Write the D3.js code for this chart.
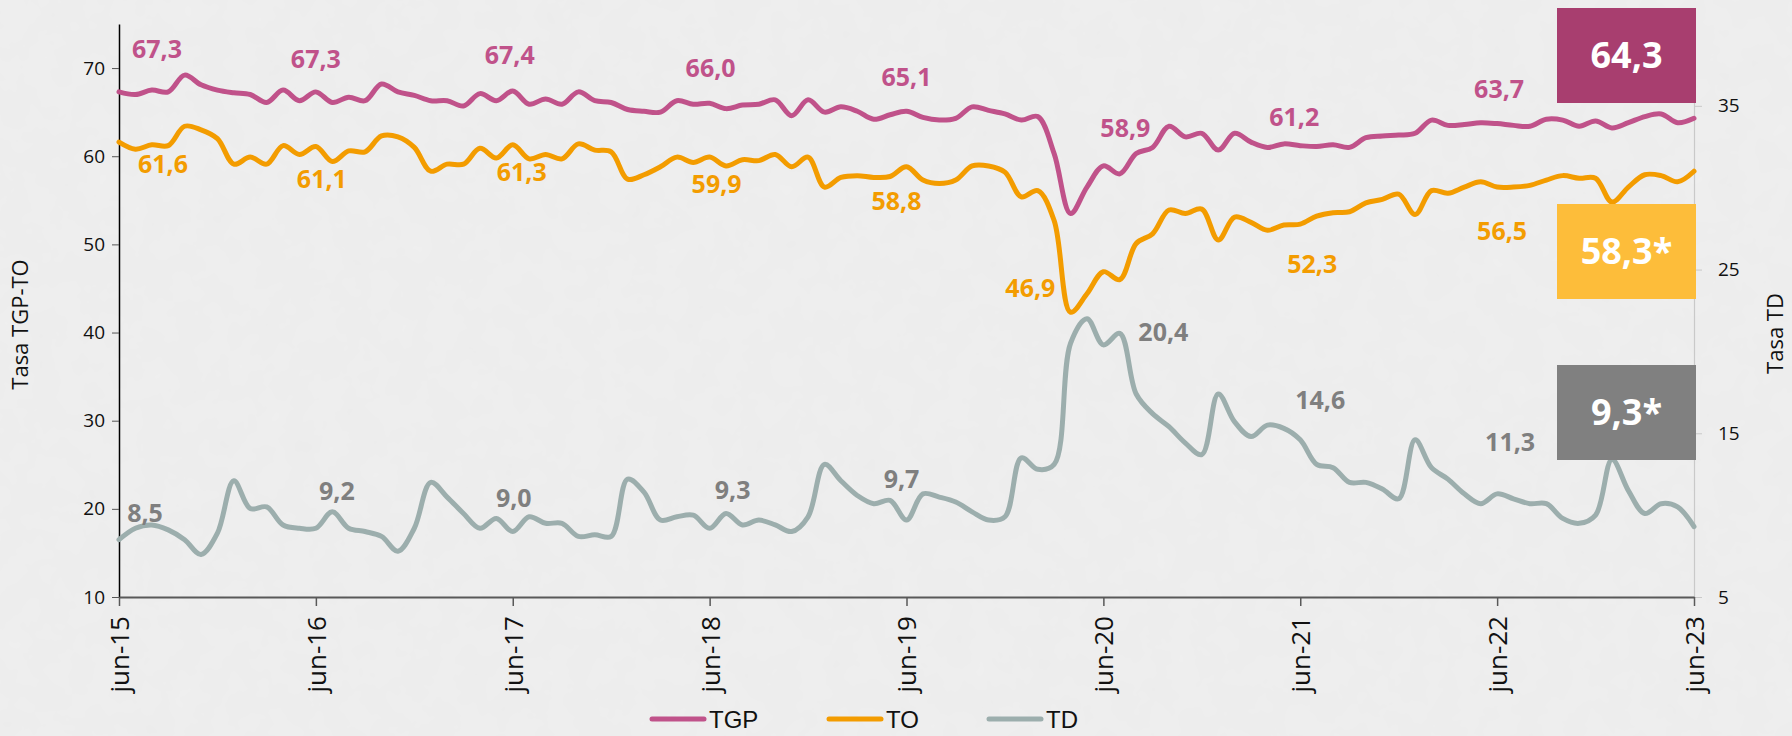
<!DOCTYPE html>
<html>
<head>
<meta charset="utf-8">
<script src="https://cdn.jsdelivr.net/npm/d3@7"></script>
<style>
  html, body { margin: 0; padding: 0; background: #efefef; }
  svg { display: block; }
</style>
</head>
<body>
<svg id="chart"></svg>
<script>
// monthly series jun-15 .. jun-23
const xTickLabels = ["jun-15", "jun-16", "jun-17", "jun-18", "jun-19", "jun-20", "jun-21", "jun-22", "jun-23"];

const tgp = [
  67.3, 67.0, 67.5, 67.3, 69.2, 68.1, 67.5, 67.2, 67.0, 66.1, 67.5, 66.3,
  67.3, 66.1, 66.7, 66.3, 68.2, 67.3, 66.9, 66.3, 66.3, 65.7, 67.1, 66.3,
  67.4, 65.9, 66.5, 65.9, 67.3, 66.3, 66.1, 65.3, 65.1, 65.0, 66.3, 65.9,
  66.0, 65.4, 65.8, 65.9, 66.4, 64.6, 66.4, 65.0, 65.6, 65.1, 64.2, 64.7,
  65.1, 64.4, 64.1, 64.3, 65.6, 65.2, 64.8, 64.1, 64.5, 60.3, 53.5, 56.5,
  58.9, 58.0, 60.3, 61.0, 63.4, 62.2, 62.6, 60.7, 62.6, 61.6, 61.0, 61.4,
  61.2, 61.1, 61.3, 61.0, 62.1, 62.3, 62.4, 62.6, 64.1, 63.5, 63.6, 63.8,
  63.7, 63.5, 63.4, 64.2, 64.1, 63.4, 64.0, 63.2, 63.8, 64.5, 64.8, 63.8,
  64.3
];

const to = [
  61.6, 60.8, 61.3, 61.2, 63.4, 63.0, 62.0, 59.1, 59.9, 59.1, 61.2, 60.2,
  61.1, 59.4, 60.6, 60.5, 62.3, 62.2, 61.0, 58.3, 59.1, 59.1, 60.9, 59.8,
  61.3, 59.7, 60.2, 59.7, 61.4, 60.7, 60.5, 57.4, 57.9, 58.8, 59.9, 59.3,
  59.9, 58.9, 59.6, 59.5, 60.2, 58.8, 59.9, 56.5, 57.6, 57.8, 57.6, 57.7,
  58.8, 57.3, 56.9, 57.3, 58.9, 58.9, 58.2, 55.4, 56.1, 52.7, 42.3, 44.4,
  46.9, 46.0, 50.1, 51.2, 53.9, 53.5, 54.0, 50.5, 53.1, 52.5, 51.6, 52.2,
  52.3, 53.2, 53.6, 53.7, 54.7, 55.1, 55.7, 53.4, 56.1, 55.8, 56.5, 57.1,
  56.5, 56.5, 56.7, 57.3, 57.8, 57.5, 57.5, 54.8, 56.5, 57.9, 57.8, 57.1,
  58.3
];

const td = [
  8.5, 9.2, 9.4, 9.1, 8.5, 7.6, 8.9, 12.1, 10.4, 10.5, 9.4, 9.2,
  9.2, 10.2, 9.2, 9.0, 8.7, 7.8, 9.2, 12.0, 11.1, 10.1, 9.2, 9.8,
  9.0, 9.9, 9.5, 9.5, 8.7, 8.8, 8.7, 12.2, 11.4, 9.7, 9.9, 10.0,
  9.2, 10.1, 9.4, 9.7, 9.4, 9.0, 9.9, 13.1, 12.1, 11.2, 10.7, 10.9,
  9.7, 11.3, 11.1, 10.8, 10.2, 9.7, 9.9, 13.5, 12.8, 13.1, 20.5, 22.0,
  20.4, 21.1, 17.4, 16.2, 15.4, 14.4, 13.7, 17.4, 15.7, 14.8, 15.5, 15.3,
  14.6, 13.1, 12.9, 12.0, 12.0, 11.6, 11.0, 14.6, 12.9, 12.2, 11.3, 10.7,
  11.3, 11.0, 10.7, 10.7, 9.8, 9.5, 10.0, 13.4, 11.5, 10.1, 10.7, 10.5,
  9.3
];

// labelled points (index of month) and the texts shown
const labelIdx = [0, 12, 24, 36, 48, 60, 72, 84];
const tgpLabels = ["67,3", "67,3", "67,4", "66,0", "65,1", "58,9", "61,2", "63,7"];
const toLabels  = ["61,6", "61,1", "61,3", "59,9", "58,8", "46,9", "52,3", "56,5"];
const tdLabels  = ["8,5", "9,2", "9,0", "9,3", "9,7", "20,4", "14,6", "11,3"];
const lastLabels = ["64,3", "58,3*", "9,3*"];

const leftTicks = [10, 20, 30, 40, 50, 60, 70];
const rightTicks = [5, 15, 25, 35];

// layout
const W = 1792, H = 736;
const plot = { left: 119, right: 1694, top: 24, bottom: 597 };
const col = { tgp: "#c0528a", to: "#f39c00", td: "#9caead", tdText: "#7f7f7f" };
const font = "'Open Sans', 'Noto Sans', sans-serif";

// label offsets [dx, dy] from the point
const tgpOff = [[38, -34], [0, -24], [-3, -27], [1, -26], [0, -25], [22, -29], [-6, -20], [2, -26]];
const toOff  = [[44, 31], [6, 41], [9, 36], [7, 36], [-10, 43], [-73, 25], [12, 49], [5, 53]];
const tdOff  = [[26, -18], [21, -28], [1, -25], [23, -29], [-5, -32], [60, -4], [20, -31], [13, -43]];

const svg = d3.select("#chart").attr("width", W).attr("height", H);

// paper background
const defs = svg.append("defs");
const f = defs.append("filter").attr("id", "paper").attr("x", 0).attr("y", 0).attr("width", "100%").attr("height", "100%");
f.append("feTurbulence").attr("type", "fractalNoise").attr("baseFrequency", 0.035).attr("numOctaves", 3).attr("seed", 4);
f.append("feColorMatrix").attr("type", "matrix")
  .attr("values", "0 0 0 0 0.5  0 0 0 0 0.5  0 0 0 0 0.5  0 0 0 0.06 0");
svg.append("rect").attr("width", W).attr("height", H).attr("fill", "#efefef");
svg.append("rect").attr("width", W).attr("height", H).attr("filter", "url(#paper)");

const n = tgp.length;
const x = d3.scaleLinear().domain([0, n - 1]).range([plot.left, plot.right]);
const yL = d3.scaleLinear().domain([10, 75]).range([plot.bottom, plot.top]);
const yR = d3.scaleLinear().domain([5, 40]).range([plot.bottom, plot.top]);

// axes
const gL = svg.append("g")
  .attr("transform", `translate(${plot.left},0)`)
  .call(d3.axisLeft(yL).tickValues(leftTicks).tickSize(7).tickSizeOuter(0).tickPadding(7));
gL.select(".domain").attr("stroke", "#000").attr("stroke-width", 1.5);
gL.selectAll(".tick line").attr("stroke", "#555");
gL.selectAll("text").attr("font-family", font).attr("font-size", 19).attr("fill", "#111");

const gR = svg.append("g")
  .attr("transform", `translate(${plot.right},0)`)
  .call(d3.axisRight(yR).tickValues(rightTicks).tickSize(8).tickSizeOuter(0).tickPadding(16));
gR.select(".domain").attr("stroke", "#c9c9c9").attr("stroke-width", 1.2);
gR.selectAll(".tick line").attr("stroke", "#c9c9c9");
gR.selectAll("text").attr("font-family", font).attr("font-size", 19).attr("fill", "#111");

const gB = svg.append("g")
  .attr("transform", `translate(0,${plot.bottom})`)
  .call(d3.axisBottom(x).tickValues(xTickLabels.map((d, i) => i * 12))
    .tickFormat((d, i) => xTickLabels[i]).tickSize(9).tickSizeOuter(0));
gB.select(".domain").attr("stroke", "#595959").attr("stroke-width", 2);
gB.selectAll(".tick line").attr("stroke", "#595959").attr("stroke-width", 1.5);
gB.selectAll("text")
  .attr("font-family", font).attr("font-size", 26).attr("fill", "#111")
  .attr("transform", "rotate(-90)")
  .attr("x", -19).attr("y", 0).attr("dy", "0.36em")
  .attr("text-anchor", "end");

// axis titles
svg.append("text")
  .attr("transform", `translate(28,${(plot.top + plot.bottom) / 2 + 14}) rotate(-90)`)
  .attr("text-anchor", "middle").attr("font-family", font).attr("font-size", 22).attr("fill", "#111")
  .text("Tasa TGP-TO");
svg.append("text")
  .attr("transform", `translate(1783,${(plot.top + plot.bottom) / 2 + 23}) rotate(-90)`)
  .attr("text-anchor", "middle").attr("font-family", font).attr("font-size", 22).attr("fill", "#111")
  .text("Tasa TD");

// lines
const series = [
  { key: "TGP", values: tgp, y: yL, color: col.tgp },
  { key: "TO", values: to, y: yL, color: col.to },
  { key: "TD", values: td, y: yR, color: col.td }
];

const linesG = svg.append("g");
series.slice().reverse().forEach(s => {
  const line = d3.line()
    .x((d, i) => x(i))
    .y(d => s.y(d))
    .curve(d3.curveCatmullRom.alpha(0.5));
  linesG.append("path")
    .datum(s.values)
    .attr("fill", "none")
    .attr("stroke", s.color)
    .attr("stroke-width", 5)
    .attr("stroke-linejoin", "round")
    .attr("stroke-linecap", "round")
    .attr("d", line);
});

// data labels
function addLabels(vals, texts, offs, yScale, color) {
  svg.append("g").selectAll("text")
    .data(labelIdx)
    .join("text")
    .attr("x", (d, i) => x(d) + offs[i][0])
    .attr("y", (d, i) => yScale(vals[d]) + offs[i][1])
    .attr("text-anchor", "middle")
    .attr("font-family", font).attr("font-weight", 700).attr("font-size", 25)
    .attr("fill", color)
    .text((d, i) => texts[i]);
}
addLabels(tgp, tgpLabels, tgpOff, yL, col.tgp);
addLabels(to, toLabels, toOff, yL, col.to);
addLabels(td, tdLabels, tdOff, yR, col.tdText);

// value boxes for the last month
const boxW = 139, boxH = 95;
const boxes = [
  { top: 8, fill: "#a83e6f", text: lastLabels[0] },
  { top: 204, fill: "#fdbd3a", text: lastLabels[1] },
  { top: 365, fill: "#808080", text: lastLabels[2] }
];
const bx = x(n - 1) + 2 - boxW;
const boxG = svg.append("g").selectAll("g").data(boxes).join("g");
boxG.append("rect")
  .attr("x", bx).attr("y", d => d.top).attr("width", boxW).attr("height", boxH)
  .attr("fill", d => d.fill);
boxG.append("text")
  .attr("x", bx + boxW / 2).attr("y", d => d.top + boxH / 2)
  .attr("dy", "0.36em").attr("text-anchor", "middle")
  .attr("font-family", font).attr("font-weight", 700).attr("font-size", 36)
  .attr("fill", "#fff")
  .text(d => d.text);

// legend
const legendItems = [
  { x: 652, color: col.tgp, text: "TGP" },
  { x: 829, color: col.to, text: "TO" },
  { x: 989, color: col.td, text: "TD" }
];
const lg = svg.append("g").selectAll("g").data(legendItems).join("g")
  .attr("transform", d => `translate(${d.x},719)`);
lg.append("line").attr("x1", 0).attr("x2", 52).attr("y1", 0).attr("y2", 0)
  .attr("stroke", d => d.color).attr("stroke-width", 5).attr("stroke-linecap", "round");
lg.append("text").attr("x", 57).attr("y", 0).attr("dy", "0.36em")
  .attr("font-family", "'Liberation Sans', Arial, sans-serif").attr("font-size", 24).attr("fill", "#111")
  .text(d => d.text);
</script>
</body>
</html>
